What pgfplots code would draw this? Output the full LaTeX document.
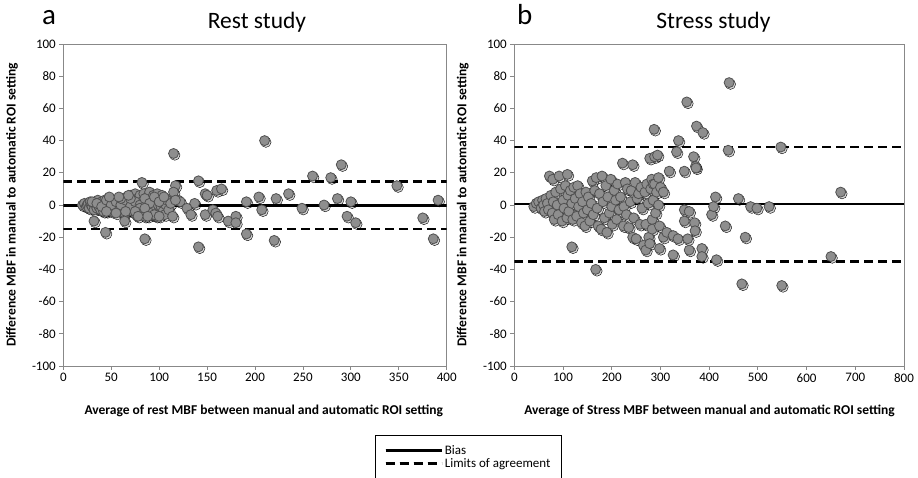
\documentclass[border=0pt]{standalone}
\usepackage{fontspec}
\setmainfont{Carlito}
\usepackage{pgfplots}
\pgfplotsset{compat=1.18}
\definecolor{axgray}{HTML}{888888}
\definecolor{mfill}{HTML}{8E8E8E}
\definecolor{medge}{HTML}{505050}

\pgfplotstableread{
x y
20 0
22 1
24 -1
25 0
26 1
27 -2
28 2
29 0
30 -1
31 1
32 -3
33 2
34 0
35 -2
36 3
37 -1
38 1
39 -3
40 2
41 0
42 -4
43 3
44 -1
45 1
46 -3
47 4
48 0
49 -2
50 2
51 -4
52 1
53 -1
54 3
55 -3
56 0
57 2
58 -2
59 4
60 -4
61 1
62 -1
63 3
64 -5
65 0
66 5
67 -2
68 2
69 -3
70 6
71 0
72 -4
73 3
74 -1
75 7
76 -6
77 1
78 4
79 -3
80 6
81 -5
82 2
83 -1
84 7
85 -7
86 3
87 0
88 5
89 -4
90 8
91 -2
92 1
93 -6
94 6
95 -3
96 3
97 -7
98 7
99 0
100 -5
101 4
102 -1
103 6
104 -4
105 2
106 -6
107 0
108 3
110 -3
112 1
30 2
35 1
40 -1
45 3
50 0
55 2
60 0
65 3
70 -1
75 2
80 0
85 4
90 1
95 5
100 2
105 5
60 4
70 4
80 -2
90 -5
45 -4
55 -5
65 -4
75 -4
85 -2
95 -6
100 -7
88 -7
78 -7
68 6
58 5
48 5
64 -10
32 -10
44 -17
85 -21
82 14
115 32
210 40
290 25
260 18
279 17
348 12
141 15
117 12
115 8
148 7
150 6
160 9
165 10
120 3
122 2
117 3
137 1
129 -2
133 -6
148 -6
156 -3
159 -5
161 -7
172 -10
180 -7
180 -11
191 2
204 5
207 -3
222 4
235 7
249 -2
272 0
286 4
300 2
296 -7
305 -11
375 -8
391 3
114 -7
386 -21
191 -18
220 -22
141 -26
}\resttable

\pgfplotstableread{
x y
40 -1
45 1
50 2
55 -2
58 3
60 0
62 -4
65 4
68 1
70 -3
72 18
75 6
78 -5
79 16
80 2
82 -9
85 8
88 0
90 -6
92 18
95 10
98 -10
100 3
102 -2
105 12
108 -8
109 19
110 6
112 -4
115 9
118 -26
118 1
120 -9
122 11
125 4
128 -7
130 12
132 -1
135 7
138 -11
140 2
142 -5
145 -13
147 8
150 -3
152 5
155 -10
158 1
160 15
162 -6
165 9
167 -40
168 17
170 -2
172 -13
175 7
178 -15
180 18
182 2
185 -8
188 12
190 -17
192 5
195 -5
198 16
200 -1
201 -12
205 9
208 3
210 -9
212 13
215 -3
218 5
222 26
224 -13
225 -1
228 14
230 -6
232 10
235 -14
238 2
240 9
243 25
243 -20
245 -8
248 14
250 -21
252 4
255 7
258 -12
260 11
262 -2
265 -25
268 8
270 -12
270 -28
272 13
275 1
276 -20
278 29
278 -24
280 10
282 16
283 -9
283 -15
285 3
285 13
288 30
288 13
290 -5
292 8
294 31
296 0
296 17
298 -13
298 -27
300 11
306 8
306 -20
313 -17
318 21
326 -19
326 -31
333 33
336 -21
337 40
349 21
349 -3
349 -10
354 64
356 -21
359 -4
359 -28
368 30
370 -11
371 -16
372 24
373 23
374 49
385 -27
385 -32
387 45
405 -6
409 -1
413 5
415 -34
433 -13
439 34
441 76
460 4
467 -49
474 -20
485 -1
498 -2
523 -1
547 36
549 -50
650 -32
670 8
287 47
}\stresstable

\pgfplotsset{
  ba/.style={
    scale only axis,
    clip mode=individual,
    height=322pt,
    ymin=-100, ymax=100,
    ytick={-100,-80,...,100},
    axis line style={axgray, line width=0.8pt},
    tick style={axgray, line width=0.8pt},
    tick align=outside,
    major tick length=4pt,
    xtick pos=bottom, ytick pos=left,
    tick label style={font=\fontsize{13}{15}\selectfont, black},
    /pgf/number format/assume math mode=true,
    label style={font=\bfseries\fontsize{13.5}{16}\selectfont},
    title style={font=\fontsize{23.5}{27}\selectfont},
  },
  pts/.style={only marks, mark=*, mark size=5pt,
    mark options={fill=mfill, draw=medge, line width=0.8pt}, forget plot},
  shd/.style={only marks, mark=*, mark size=5.2pt,
    mark options={fill=black, draw=none, fill opacity=0.16, xshift=1.3pt, yshift=-1.6pt}, forget plot},
}

\begin{document}
\begin{tikzpicture}[x=1pt,y=1pt]
\useasboundingbox (0,0) rectangle (918,478);

\begin{axis}[ba,
  at={(63.3pt,112pt)}, anchor=south west,
  width=383.4pt,
  xmin=0, xmax=400, xtick={0,50,...,400},
  xlabel={Average of rest MBF between manual and automatic ROI setting},
  ylabel={Difference MBF in manual to automatic ROI setting},
  x label style={at={(axis description cs:0.523,-0.139)}, anchor=center},
  y label style={at={(axis description cs:-0.134,0.5)}, anchor=center},
  title={Rest study},
  title style={at={(axis description cs:0.505,1.05)}, anchor=center},
  legend style={at={(axis description cs:0.813,-0.214)}, anchor=north west,
    draw=black, line width=0.6pt, fill=white,
    font=\fontsize{13}{15}\selectfont,
    inner xsep=9pt, inner ysep=8pt, row sep=-1.5pt},
  legend cell align=left,
  legend image code/.code={\draw[#1] (0pt,0pt) -- (46pt,0pt); \path (0pt,0pt) -- (56pt,0pt);},
]
\addplot[black, line width=2.6pt] coordinates {(0,-0.3) (400,-0.3)};
\addlegendentry{Bias}
\addplot[black, line width=2.6pt, dash pattern=on 9pt off 5pt] coordinates {(0,14.6) (400,14.6)};
\addlegendentry{Limits of agreement}
\addplot[black, line width=2.6pt, dash pattern=on 9pt off 5pt, forget plot] coordinates {(0,-14.8) (400,-14.8)};
\addplot[shd] table {\resttable};
\addplot[pts] table {\resttable};
\node[font=\fontsize{29}{32}\selectfont, anchor=base] at (axis description cs:-0.037,1.062) {a};
\end{axis}

\begin{axis}[ba,
  at={(514.3pt,112pt)}, anchor=south west,
  width=389.7pt,
  xmin=0, xmax=800, xtick={0,100,...,800},
  xlabel={Average of Stress MBF between manual and automatic ROI setting},
  ylabel={Difference MBF in manual to automatic ROI setting},
  x label style={at={(axis description cs:0.501,-0.139)}, anchor=center},
  y label style={at={(axis description cs:-0.132,0.5)}, anchor=center},
  title={Stress study},
  title style={at={(axis description cs:0.511,1.05)}, anchor=center},
]
\addplot[black, line width=2.6pt] coordinates {(0,0.6) (800,0.6)};
\addplot[black, line width=2.6pt, dash pattern=on 9pt off 5pt] coordinates {(0,36) (800,36)};
\addplot[black, line width=2.6pt, dash pattern=on 9pt off 5pt] coordinates {(0,-35) (800,-35)};
\addplot[shd] table {\stresstable};
\addplot[pts] table {\stresstable};
\node[font=\fontsize{29}{32}\selectfont, anchor=base] at (axis description cs:0.027,1.062) {b};
\end{axis}
\end{tikzpicture}
\end{document}
